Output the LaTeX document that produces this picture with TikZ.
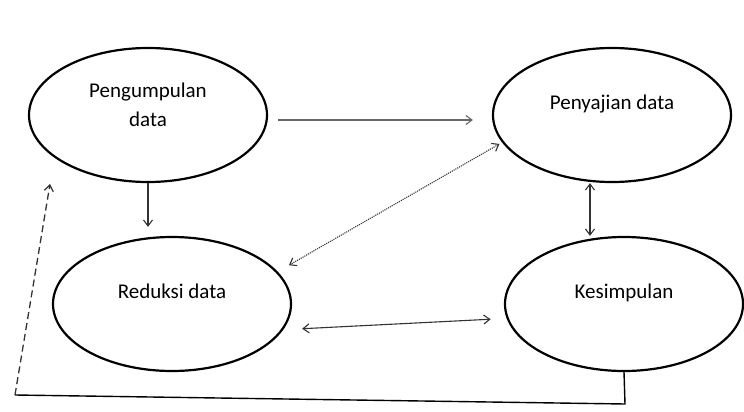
\documentclass[tikz,border=0pt]{standalone}
\usepackage{fontspec}
\setmainfont{Carlito}
\usetikzlibrary{arrows.meta,shapes.geometric}
\tikzset{
  stage/.style={ellipse,draw,line width=2.2pt,minimum width=238pt,minimum height=134pt,
    align=center,text depth=26pt,font=\fontsize{21}{29}\selectfont},
  flow/.style={line width=1.1pt,draw=black!80}
}
\begin{document}
\begin{tikzpicture}[x=1pt,y=-1pt,>={Straight Barb[length=6pt,width=9pt]}]
  \useasboundingbox (0,0) rectangle (744,412);
  \node[stage,text depth=20pt] (kumpul) at (148,115) {Pengumpulan\\data};
  \node[stage] (saji)   at (612,115) {Penyajian data};
  \node[stage] (reduksi) at (172,304) {Reduksi data};
  \node[stage] (simpul) at (624,304) {Kesimpulan};
  \coordinate (balikR) at (625,404);
  \coordinate (balikL) at (15,395);
  \coordinate (balikT) at (50,184);

  \draw[flow,->,draw=black!60,shorten <=10pt,shorten >=19pt] ([yshift=-5pt]kumpul.east) -- ([yshift=-5pt]saji.west);
  \draw[flow,->,shorten >=9pt] (kumpul.south) -- (kumpul.south |- reduksi.north);
  \draw[flow,<->,densely dotted,shorten <=3pt,shorten >=13pt] (saji.194) -- (reduksi.17);
  \draw[flow,<->] ([xshift=-22pt]saji.south) -- ([xshift=-22pt]saji.south |- simpul.north);
  \draw[flow,<->,shorten <=19pt,shorten >=16pt] (reduksi.347) -- (simpul.187);
  \draw[line width=1.4pt] (simpul.south) -- (balikR) -- (balikL);
  \draw[flow,->,line width=1.3pt,dash pattern=on 7pt off 4pt] (balikL) -- (balikT);
\end{tikzpicture}
\end{document}
